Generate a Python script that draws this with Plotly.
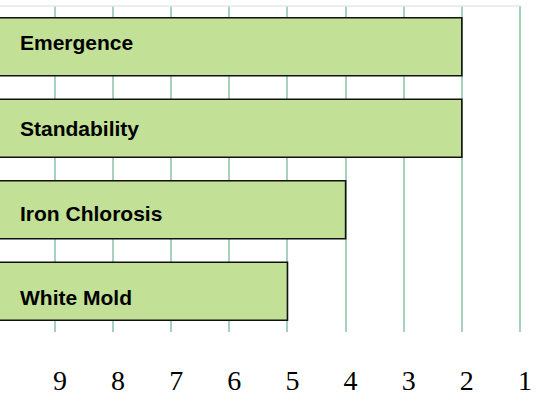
import plotly.graph_objects as go

# ---- data ----
traits = ["Emergence", "Standability", "Iron Chlorosis", "White Mold"]
scores = [2, 2, 4, 5]
tick_values = [9, 8, 7, 6, 5, 4, 3, 2, 1]
tick_labels = ["9", "8", "7", "6", "5", "4", "3", "2", "1"]

# ---- style ----
BASE = 10.5                      # bars grow from the left (high score) side
X_RANGE = [9.946, 0.948]
label_dy = [4.5, 0, -3.5, -6]    # small vertical nudges of in-bar labels
BAR_FILL = "#C2E096"
GRID = "#A6D2BC"

fig = go.Figure()
fig.add_trace(go.Bar(
    y=traits,
    x=[s - BASE for s in scores],
    base=BASE,
    orientation="h",
    marker=dict(color=BAR_FILL, line=dict(color="#111111", width=1.6)),
    hoverinfo="skip",
))

for t, dy in zip(traits, label_dy):
    fig.add_annotation(
        x=0.0344, xref="paper", xanchor="left",
        y=t, yref="y", yanchor="middle", yshift=dy,
        text=f"<b>{t}</b>", showarrow=False,
        font=dict(family="Liberation Sans, Arial", size=21, color="black"),
    )

# thin light border along the top of the plot
fig.add_shape(type="line", xref="paper", yref="paper",
              x0=0, x1=0.994, y0=1, y1=1,
              line=dict(color="#E2EAE8", width=1.5))

fig.update_layout(
    width=539, height=402,
    margin=dict(l=0, r=16, t=6, b=70),
    paper_bgcolor="white", plot_bgcolor="white",
    bargap=0.29,
    showlegend=False,
    xaxis=dict(
        range=X_RANGE,
        tickvals=tick_values, ticktext=tick_labels,
        showgrid=True, gridcolor=GRID, gridwidth=2,
        zeroline=False, showline=False, ticks="",
        tickfont=dict(family="Liberation Serif, Times New Roman", size=28, color="black"),
        ticklabelshift=-5, ticklabelstandoff=29,
    ),
    yaxis=dict(
        categoryorder="array", categoryarray=traits,
        autorange="reversed",
        showticklabels=False, showgrid=False, zeroline=False, showline=False, ticks="",
    ),
)

fig.write_html(
    "out.html",
    config={"displayModeBar": False},
    post_script="document.body.style.margin='0';document.body.style.padding='0';",
)
